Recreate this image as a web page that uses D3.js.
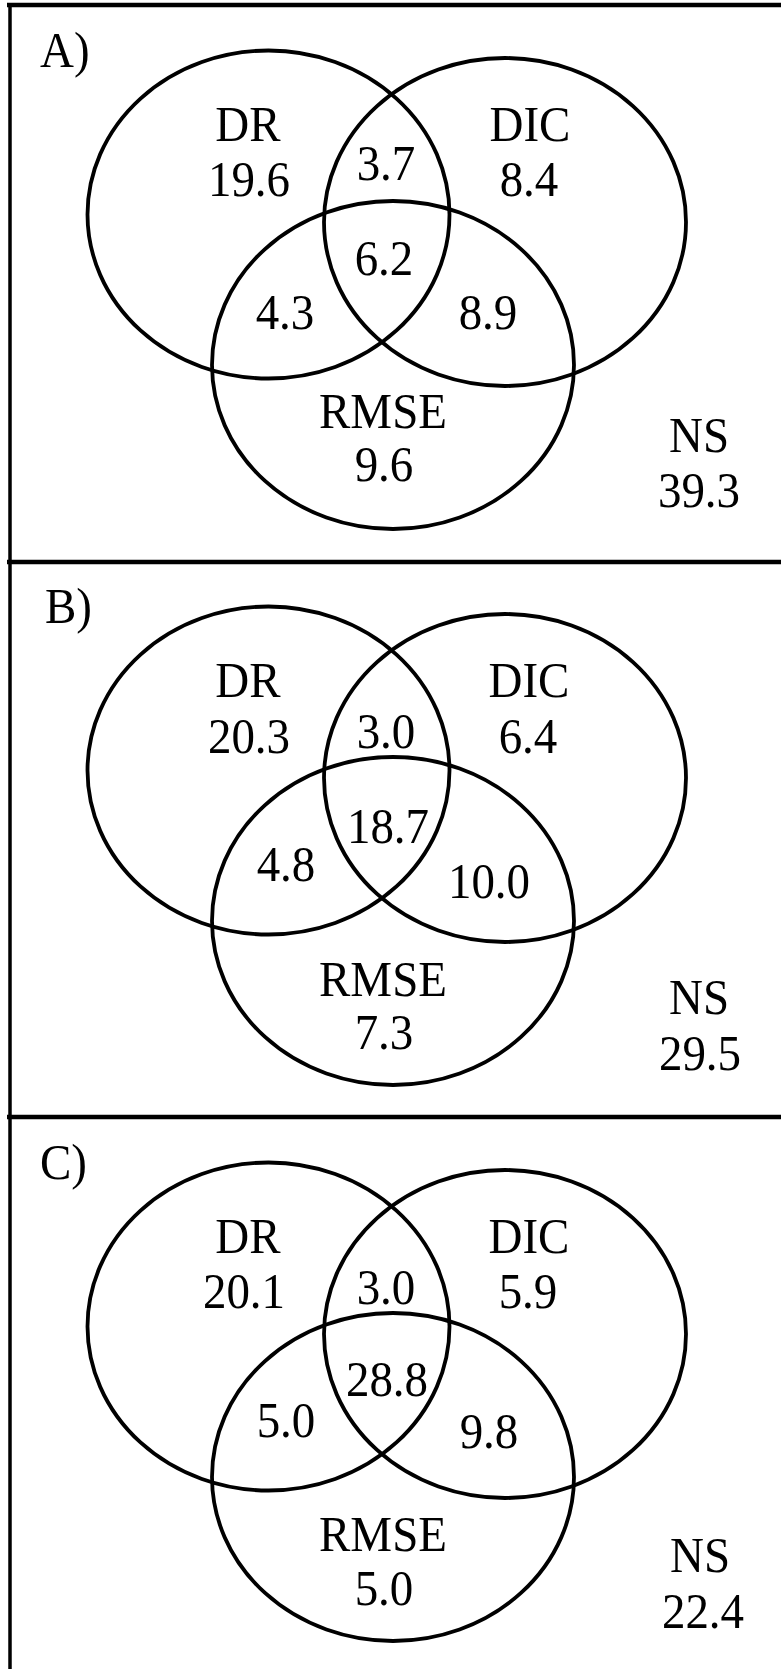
<!DOCTYPE html>
<html>
<head>
<meta charset="utf-8">
<script src="https://cdn.jsdelivr.net/npm/d3@7"></script>
<style>
  body { margin: 0; background: #fff; }
  svg { display: block; }
</style>
</head>
<body>
<div id="chart"></div>
<script>
// values (percent) for each panel A, B, C
var panelTitles = ["A)", "B)", "C)"];
var setNames = ["DR", "DIC", "RMSE"];
var onlyDR = [19.6, 20.3, 20.1];
var onlyDIC = [8.4, 6.4, 5.9];
var onlyRMSE = [9.6, 7.3, 5.0];
var drDic = [3.7, 3.0, 3.0];
var drRmse = [4.3, 4.8, 5.0];
var dicRmse = [8.9, 10.0, 9.8];
var allThree = [6.2, 18.7, 28.8];
var noneNS = [39.3, 29.5, 22.4];

const width = 781,
  height = 1669;

const svg = d3
  .select("#chart")
  .append("svg")
  .attr("width", width)
  .attr("height", height);

svg.append("rect").attr("width", width).attr("height", height).attr("fill", "white");

// vertical offset of each panel
const panelY = d3.scaleLinear().domain([0, 1]).range([0, 556]);
const fmt = d3.format(".1f");

// ellipse layout inside one panel
const rx = 181,
  ry = 164;
const centers = { DR: [268.5, 214.5], DIC: [505, 222], RMSE: [393, 365] };

// where the labels sit (x centre, baseline) - hand placed, differs a bit per panel
const spots = [
  { title: [40, 67], DR: [248, 141], drVal: [249, 196], DIC: [530, 141], dicVal: [529, 196],
    drDic: [386, 180], all: [384, 275], drRmse: [285, 329], dicRmse: [488, 329],
    RMSE: [383, 428], rmseVal: [384, 481], NS: [699, 452], nsVal: [699, 507] },
  { title: [45, 67], DR: [248, 141], drVal: [249, 197], DIC: [529, 141], dicVal: [528, 197],
    drDic: [386, 192], all: [388, 287], drRmse: [286, 325], dicRmse: [489, 342],
    RMSE: [383, 440], rmseVal: [384, 493], NS: [699, 458], nsVal: [700, 514] },
  { title: [40, 67], DR: [248, 141], drVal: [244, 196], DIC: [529, 141], dicVal: [528, 196],
    drDic: [386, 192], all: [387, 284], drRmse: [286, 325], dicRmse: [489, 336],
    RMSE: [383, 439], rmseVal: [384, 493], NS: [700, 460], nsVal: [703, 516] }
];

panelTitles.forEach(function (t, i) {
  const g = svg.append("g").attr("transform", "translate(0," + panelY(i) + ")");

  g.selectAll("ellipse")
    .data(setNames)
    .join("ellipse")
    .attr("cx", function (d) { return centers[d][0]; })
    .attr("cy", function (d) { return centers[d][1]; })
    .attr("rx", rx)
    .attr("ry", ry)
    .attr("fill", "none")
    .attr("stroke", "black")
    .attr("stroke-width", 3.8);

  const s = spots[i];
  const labels = [
    { text: t, pos: s.title, anchor: "start" },
    { text: setNames[0], pos: s.DR },
    { text: fmt(onlyDR[i]), pos: s.drVal },
    { text: setNames[1], pos: s.DIC },
    { text: fmt(onlyDIC[i]), pos: s.dicVal },
    { text: fmt(drDic[i]), pos: s.drDic },
    { text: fmt(allThree[i]), pos: s.all },
    { text: fmt(drRmse[i]), pos: s.drRmse },
    { text: fmt(dicRmse[i]), pos: s.dicRmse },
    { text: setNames[2], pos: s.RMSE },
    { text: fmt(onlyRMSE[i]), pos: s.rmseVal },
    { text: "NS", pos: s.NS },
    { text: fmt(noneNS[i]), pos: s.nsVal }
  ];

  // the original lettering is a bit taller than normal Times, so stretch it vertically
  g.selectAll("text")
    .data(labels)
    .join("text")
    .attr("transform", function (d) {
      return "translate(" + d.pos[0] + "," + d.pos[1] + ") scale(1,1.1)";
    })
    .attr("text-anchor", function (d) { return d.anchor || "middle"; })
    .style("font-family", "'Liberation Serif', 'Times New Roman', serif")
    .style("font-size", "47px")
    .attr("fill", "black")
    .text(function (d) { return d.text; });
});

// frame: top edge, left edge and the two dividers (right and bottom are cut off)
const frameY = [5, 562, 1117];
svg.selectAll("line.h")
  .data(frameY)
  .join("line")
  .attr("class", "h")
  .attr("x1", 7)
  .attr("x2", width)
  .attr("y1", function (d) { return d; })
  .attr("y2", function (d) { return d; })
  .attr("stroke", "black")
  .attr("stroke-width", 4.5);

svg.append("line")
  .attr("x1", 10)
  .attr("x2", 10)
  .attr("y1", 3)
  .attr("y2", height)
  .attr("stroke", "black")
  .attr("stroke-width", 3.5);
</script>
</body>
</html>
